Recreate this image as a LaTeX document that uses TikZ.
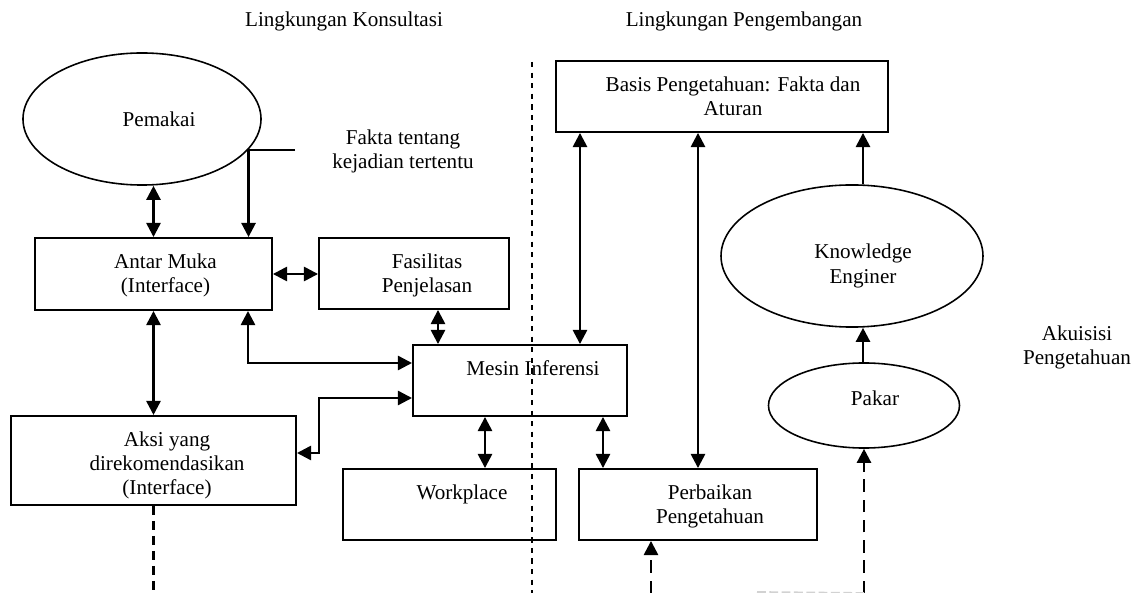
\documentclass[tikz,border=0pt]{standalone}
\usepackage{fontspec}
\setmainfont{Liberation Serif}
\usetikzlibrary{shapes.geometric,arrows.meta}

\begin{document}
\begin{tikzpicture}[x=0.568pt,y=-0.568pt,
            every node/.style={font=\fontsize{12}{13.9}\selectfont},
            kotak/.style={draw,line width=1.1pt,inner sep=0pt},
            elips/.style={draw,ellipse,line width=0.9pt,inner sep=0pt},
            teks/.style={align=center,inner sep=0pt,anchor=base},
            panah/.style={line width=1.4pt,-{Triangle[length=8pt,width=8pt]}},
            panah2/.style={line width=1.4pt,{Triangle[length=8pt,width=8pt]}-{Triangle[length=8pt,width=8pt]}},
            putus/.style={line width=1.4pt,dash pattern=on 7pt off 4.5pt,-{Triangle[length=8pt,width=8pt]}},
            garisputus/.style={line width=1.2pt,dash pattern=on 5pt off 3.5pt},
            pemisah/.style={line width=0.9pt,dash pattern=on 3pt off 3pt}]
            \useasboundingbox (0,0) rectangle (1137,593);
            \node[teks] (L1) at (344,26.5) {Lingkungan Konsultasi};
            \node[teks] (L2) at (744,26.5) {Lingkungan Pengembangan};
            \node[elips,minimum width=135.2pt,minimum height=75pt] (P) at (142,119) {};
            \node[teks] (Pt) at ([shift={(17,7.5)}]P.center) {Pemakai};
            \node[teks] (F) at (403,169) {Fakta tentang\\kejadian tertentu};
            \node[kotak,minimum width=134.6pt,minimum height=40.9pt] (AM) at (153.5,274) {};
            \node[teks] (AMt) at ([shift={(12,55.5)}]AM.north) {Antar Muka\\(Interface)};
            \node[kotak,minimum width=107.9pt,minimum height=40.3pt] (FP) at (414,273.5) {};
            \node[teks] (FPt) at ([shift={(13,55.5)}]FP.north) {Fasilitas\\Penjelasan};
            \node[kotak,minimum width=121.6pt,minimum height=40.3pt] (MI) at (520,380.5) {};
            \node[teks] (MIt) at ([shift={(13,31)}]MI.north) {Mesin Inferensi};
            \node[kotak,minimum width=161.9pt,minimum height=50.6pt] (AK) at (153.5,460.5) {};
            \node[teks] (AKt) at ([shift={(13.5,80)}]AK.north) {Aksi yang\\direkomendasikan\\(Interface)};
            \node[kotak,minimum width=121pt,minimum height=40.3pt] (W) at (449.5,504.5) {};
            \node[teks] (Wt) at ([shift={(12.5,31)}]W.north) {Workplace};
            \node[kotak,minimum width=135.2pt,minimum height=40.3pt] (PP) at (698,504.5) {};
            \node[teks] (PPt) at ([shift={(12,55.5)}]PP.north) {Perbaikan\\Pengetahuan};
            \node[kotak,minimum width=188.6pt,minimum height=40.3pt] (BP) at (722,96.5) {};
            \node[teks] (BPt) at ([shift={(11,55.5)}]BP.north) {Basis Pengetahuan: Fakta dan\\Aturan};
            \node[elips,minimum width=148.8pt,minimum height=80.7pt] (KE) at (852,256) {};
            \node[teks] (KEt) at ([shift={(11,27.2)}]KE.center) {Knowledge\\Enginer};
            \node[elips,minimum width=108.5pt,minimum height=48.3pt] (PK) at (864,405.5) {};
            \node[teks] (PKt) at ([shift={(11,0.2)}]PK.center) {Pakar};
            \node[teks] (AP) at (1077,365) {Akuisisi\\Pengetahuan};
            \coordinate (Fk) at (295,150);
            \coordinate (S1) at (532,62);
            \coordinate (S2) at (532,593);
            \coordinate (X1) at (651,593);
            \coordinate (X2) at (864,593);
            \coordinate (X3) at (153.5,593);
            \draw[pemisah] (S1) -- (S2);
            \draw[panah2] (AM.north |- P.south) -- (AM.north);
            \draw[panah] (Fk) -| (P.-16 |- AM.north);
            \draw[panah2] (AM.east) -- (AM.east -| FP.west);
            \draw[panah2] (FP.south -| 438,0) -- (MI.north -| 438,0);
            \draw[panah2] (AM.south -| 248,0) |- (MI.west |- 0,363);
            \draw[panah2] (AM) -- (AK);
            \draw[panah2] (MI.west |- 0,398) -- (319,398) |- (AK.east |- 0,453);
            \draw[panah2] (MI.south -| 485,0) -- (W.north -| 485,0);
            \draw[panah2] (MI.south -| 603,0) -- (PP.north -| 603,0);
            \draw[panah2] (BP.south -| 580,0) -- (MI.north -| 580,0);
            \draw[panah2] (BP.south -| PP.north) -- (PP.north);
            \draw[panah] (KE.north -| 863,0) -- (BP.south -| 863,0);
            \draw[panah] (PK.north -| 863,0) -- (KE.south -| 863,0);
            \draw[putus] (X1) -- (PP.south -| X1);
            \draw[putus] (X2) -- (PK.south);
            \draw[garisputus] (AK.south) -- (X3);
            \draw[gray!35,line width=1pt,dash pattern=on 5pt off 2pt] (757,592) -- (X2);
\end{tikzpicture}
\end{document}
